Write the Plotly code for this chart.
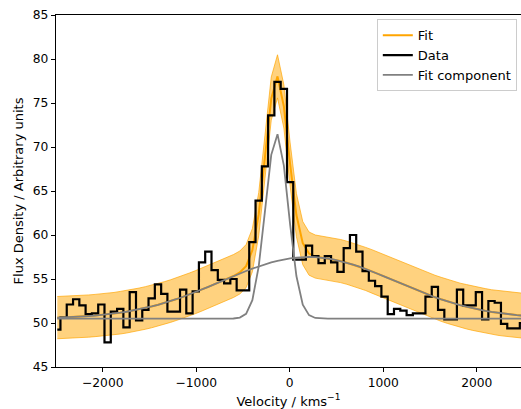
import plotly.graph_objects as go

# Channel velocities (km/s) - bin centres
velocity = [-2486, -2419, -2351, -2284, -2217, -2150, -2082, -2015, -1948, -1880,
            -1813, -1746, -1678, -1611, -1544, -1477, -1409, -1342, -1275, -1207,
            -1140, -1073, -1005, -938, -871, -803, -736, -669, -602, -534,
            -467, -400, -332, -265, -198, -131, -63, 4, 71, 139,
            206, 273, 341, 408, 475, 543, 610, 677, 744, 812,
            879, 946, 1014, 1081, 1148, 1216, 1283, 1350, 1417, 1485,
            1552, 1619, 1687, 1754, 1821, 1889, 1956, 2023, 2090, 2158,
            2225, 2292, 2360, 2427, 2494]

# Observed flux density
flux = [49.25, 50.6, 52.1, 52.7, 52.0, 51.0, 51.1, 52.1, 47.8, 51.3,
        51.6, 49.5, 53.5, 50.3, 51.5, 52.8, 54.4, 53.3, 51.3, 51.3,
        53.8, 51.1, 53.6, 56.9, 58.1, 56.0, 54.9, 54.5, 55.0, 53.7,
        53.7, 59.2, 63.9, 67.8, 73.6, 77.4, 76.6, 66.0, 57.2, 57.2,
        58.8, 57.6, 56.8, 57.6, 56.9, 55.8, 58.5, 60.0, 58.1, 55.9,
        54.8, 54.2, 53.0, 51.0, 51.6, 51.4, 50.9, 51.1, 51.1, 53.0,
        54.1, 51.5, 50.4, 50.4, 53.8, 52.0, 52.0, 53.5, 50.4, 52.5,
        52.3, 49.9, 49.4, 49.4, 50.0]

# Total fit
fit = [50.61, 50.63, 50.66, 50.70, 50.74, 50.79, 50.85, 50.91, 50.99, 51.07,
       51.17, 51.28, 51.41, 51.55, 51.71, 51.88, 52.07, 52.27, 52.49, 52.73,
       52.98, 53.24, 53.52, 53.81, 54.11, 54.41, 54.72, 55.02, 55.34, 55.74,
       56.46, 58.27, 62.37, 68.89, 75.50, 78.03, 74.61, 68.02, 62.27, 59.08,
       57.89, 57.55, 57.42, 57.33, 57.20, 57.04, 56.85, 56.64, 56.40, 56.14,
       55.86, 55.57, 55.27, 54.97, 54.66, 54.35, 54.05, 53.76, 53.47, 53.20,
       52.93, 52.69, 52.45, 52.23, 52.03, 51.85, 51.68, 51.52, 51.39, 51.26,
       51.15, 51.06, 50.97, 50.90, 50.83]

# Fit uncertainty (half-width of the shaded band)
fit_unc = [2.40, 2.40, 2.40, 2.40, 2.40, 2.40, 2.40, 2.40, 2.40, 2.40,
           2.42, 2.42, 2.42, 2.42, 2.42, 2.42, 2.42, 2.42, 2.42, 2.42,
           2.44, 2.44, 2.44, 2.44, 2.44, 2.44, 2.44, 2.44, 2.44, 2.44,
           2.45, 2.45, 2.45, 2.45, 2.45, 2.45, 2.45, 2.45, 2.45, 2.45,
           2.45, 2.45, 2.45, 2.45, 2.45, 2.45, 2.45, 2.45, 2.45, 2.45,
           2.47, 2.47, 2.47, 2.47, 2.47, 2.47, 2.47, 2.47, 2.47, 2.47,
           2.50, 2.50, 2.50, 2.50, 2.50, 2.52, 2.52, 2.52, 2.52, 2.52,
           2.55, 2.55, 2.55, 2.55, 2.55]

# Narrow fit component
narrow_comp = [50.5, 50.5, 50.5, 50.5, 50.5, 50.5, 50.5, 50.5, 50.5, 50.5,
               50.5, 50.5, 50.5, 50.5, 50.5, 50.5, 50.5, 50.5, 50.5, 50.5,
               50.5, 50.5, 50.5, 50.5, 50.5, 50.5, 50.5, 50.5, 50.51, 50.61,
               51.05, 52.59, 56.43, 62.71, 69.11, 71.46, 67.88, 61.17, 55.34, 52.09,
               50.89, 50.57, 50.5, 50.5, 50.5, 50.5, 50.5, 50.5, 50.5, 50.5,
               50.5, 50.5, 50.5, 50.5, 50.5, 50.5, 50.5, 50.5, 50.5, 50.5,
               50.5, 50.5, 50.5, 50.5, 50.5, 50.5, 50.5, 50.5, 50.5, 50.5,
               50.5, 50.5, 50.5, 50.5, 50.5]

# Broad fit component
broad_comp = [50.61, 50.63, 50.66, 50.70, 50.74, 50.79, 50.85, 50.91, 50.99, 51.07,
              51.17, 51.28, 51.41, 51.55, 51.71, 51.88, 52.07, 52.27, 52.49, 52.73,
              52.98, 53.24, 53.52, 53.81, 54.11, 54.41, 54.72, 55.02, 55.33, 55.63,
              55.91, 56.18, 56.44, 56.68, 56.89, 57.07, 57.23, 57.35, 57.43, 57.49,
              57.50, 57.48, 57.42, 57.33, 57.20, 57.04, 56.85, 56.64, 56.40, 56.14,
              55.86, 55.57, 55.27, 54.97, 54.66, 54.35, 54.05, 53.76, 53.47, 53.20,
              52.93, 52.69, 52.45, 52.23, 52.03, 51.85, 51.68, 51.52, 51.39, 51.26,
              51.15, 51.06, 50.97, 50.90, 50.83]

x_ticks = [-2000, -1000, 0, 1000, 2000]
x_tick_labels = ["\u22122000", "\u22121000", "0", "1000", "2000"]
y_ticks = [45, 50, 55, 60, 65, 70, 75, 80, 85]

upper = [f + u for f, u in zip(fit, fit_unc)]
lower = [f - u for f, u in zip(fit, fit_unc)]

ORANGE = "#FFA500"
GRAY = "#808080"
FONT = "DejaVu Sans"
TICK_FS = 12.3
TITLE_FS = 13
LEG_FS = 13

fig = go.Figure()
fig.add_trace(go.Scatter(x=velocity, y=upper, mode="lines",
                         line=dict(color="rgba(255,165,0,0.85)", width=0.8),
                         showlegend=False, hoverinfo="skip"))
fig.add_trace(go.Scatter(x=velocity, y=lower, mode="lines", fill="tonexty",
                         fillcolor="rgba(255,165,0,0.5)",
                         line=dict(color="rgba(255,165,0,0.85)", width=0.8),
                         showlegend=False, hoverinfo="skip"))
fig.add_trace(go.Scatter(x=velocity, y=fit, mode="lines", name="Fit",
                         line=dict(color=ORANGE, width=2)))
fig.add_trace(go.Scatter(x=velocity, y=flux, mode="lines", name="Data",
                         line=dict(color="black", width=2.2, shape="hvh")))
fig.add_trace(go.Scatter(x=velocity, y=narrow_comp, mode="lines", name="Fit component",
                         legendgroup="comp", line=dict(color=GRAY, width=1.8)))
fig.add_trace(go.Scatter(x=velocity, y=broad_comp, mode="lines", name="Fit component",
                         legendgroup="comp", showlegend=False,
                         line=dict(color=GRAY, width=1.8)))

fig.update_layout(
    width=521, height=409,
    margin=dict(l=56, r=0, t=15, b=42),
    paper_bgcolor="white", plot_bgcolor="white",
    font=dict(family=FONT, size=TICK_FS, color="black"),
    legend=dict(x=0.991, y=0.988, xanchor="right", yanchor="top",
                bgcolor="rgba(255,255,255,0.8)", bordercolor="#cccccc", borderwidth=1,
                font=dict(family=FONT, size=LEG_FS), itemwidth=30,
                tracegroupgap=0),
)
fig.update_xaxes(range=[-2500, 2473], tickvals=x_ticks, ticktext=x_tick_labels,
                 showgrid=False, zeroline=False, showline=True, linecolor="black",
                 linewidth=1.3, mirror=True, ticks="outside", ticklen=4, tickwidth=1,
                 tickcolor="black", tickfont=dict(family=FONT, size=TICK_FS),
                 title=dict(text="Velocity / kms<sup>\u22121</sup>", standoff=7,
                            font=dict(family=FONT, size=TITLE_FS)))
fig.update_yaxes(range=[45, 85], tickvals=y_ticks,
                 showgrid=False, zeroline=False, showline=True, linecolor="black",
                 linewidth=1.3, mirror=False, ticks="outside", ticklen=4, tickwidth=1,
                 tickcolor="black", tickfont=dict(family=FONT, size=TICK_FS),
                 title=dict(text="Flux Density / Arbitrary units", standoff=6,
                            font=dict(family=FONT, size=TITLE_FS)))

fig.write_html("out.html")
